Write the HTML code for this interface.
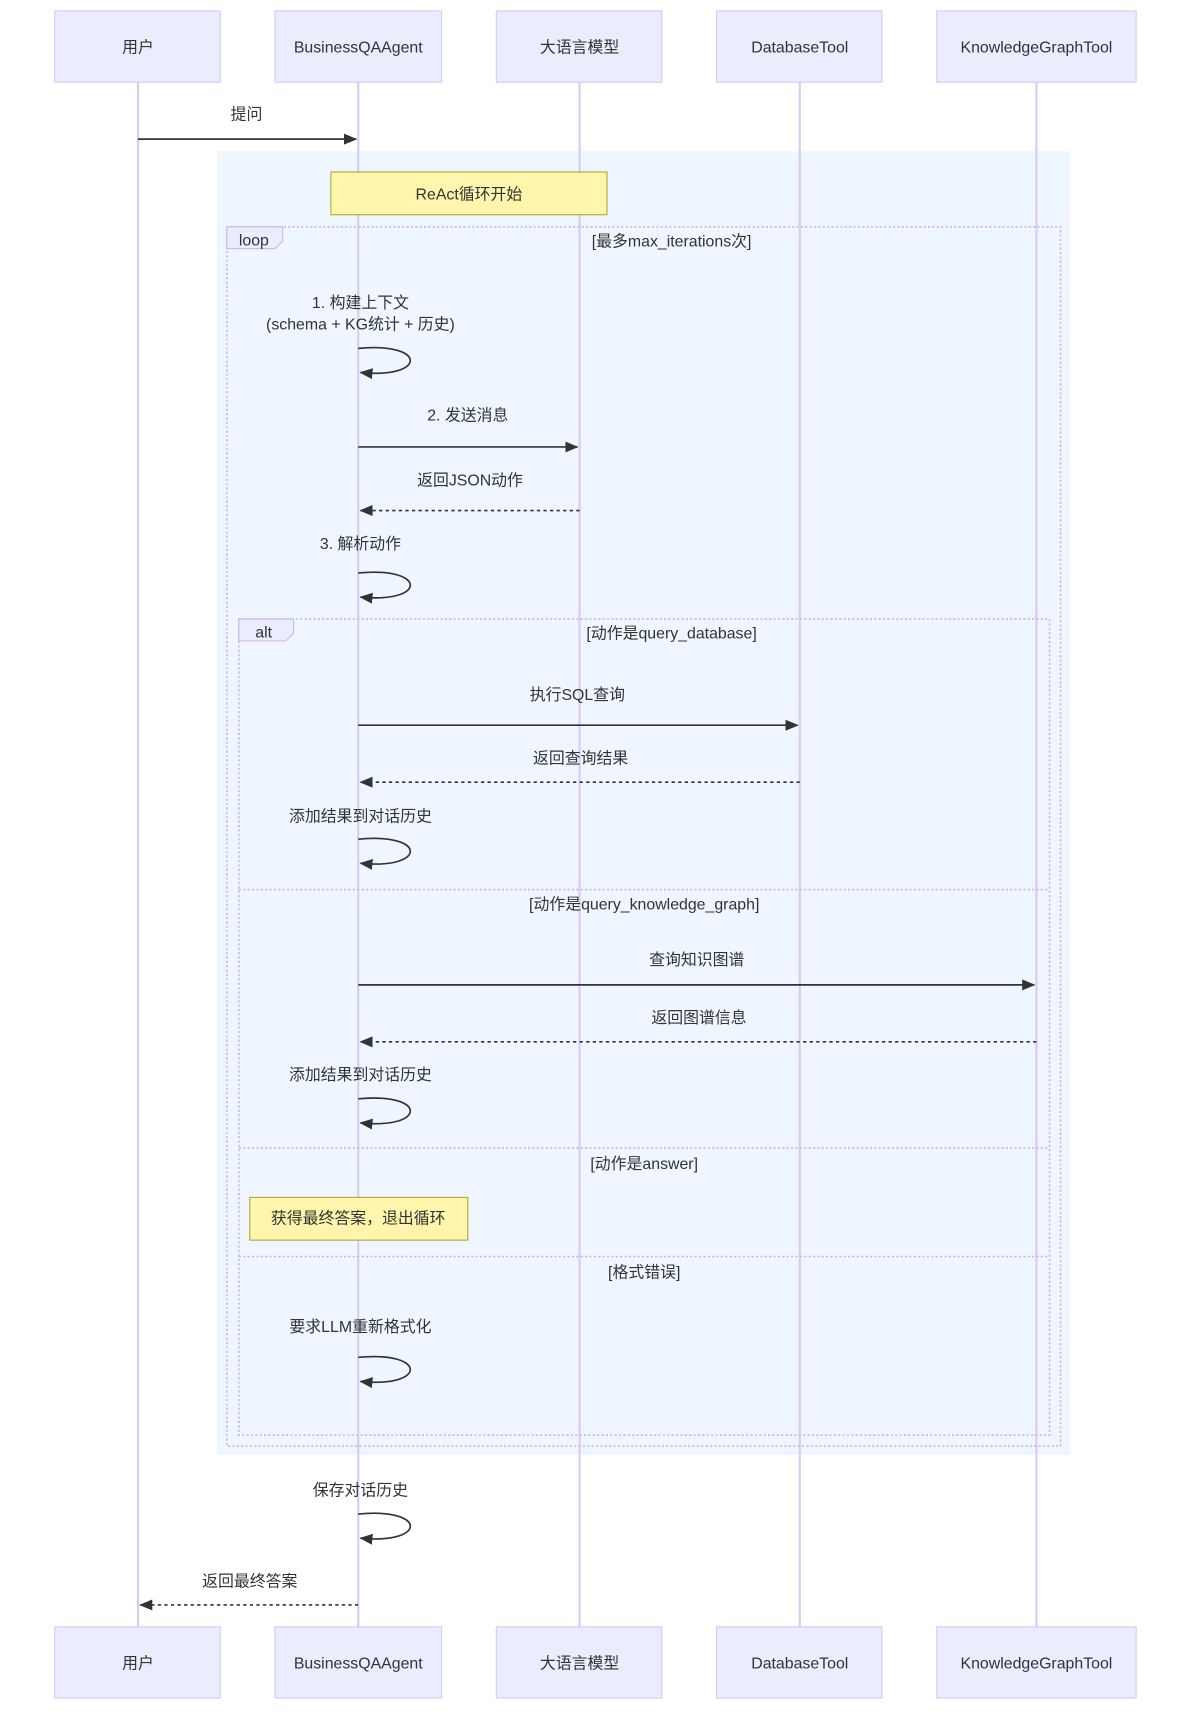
<!DOCTYPE html>
<html><head><meta charset="utf-8"><style>
html,body{margin:0;padding:0;background:#fff;}
svg{display:block;}
text{font-family:"Liberation Sans","Noto Sans CJK SC",sans-serif;font-size:14.5px;fill:#333;}
.actor{fill:#ececff;stroke:#ccccff;stroke-width:1;}
.life{stroke:#d6cdf5;stroke-width:2;}
.msg{stroke:#333;stroke-width:1.5;fill:none;}
.dash{stroke:#333;stroke-width:1.5;fill:none;stroke-dasharray:3,3;}
.frame{fill:none;stroke:#c9b8e8;stroke-width:1.5;stroke-dasharray:2,2;}
.note{fill:#fff5ad;stroke:#aaaa33;stroke-width:1;}
</style></head><body>
<svg width="1192" height="1718" viewBox="0 0 1088 1568.2" preserveAspectRatio="none" xmlns="http://www.w3.org/2000/svg">
<defs>
<marker id="ah" markerWidth="12" markerHeight="10" refX="11" refY="5" orient="auto" markerUnits="userSpaceOnUse">
<path d="M0,0 L12,5 L0,10 z" fill="#333"/></marker>
</defs>
<rect x="198" y="138" width="779" height="1190" fill="#eff6ff"/>
<line class="life" x1="126" y1="75" x2="126" y2="1485"/>
<line class="life" x1="327" y1="75" x2="327" y2="1485"/>
<line class="life" x1="529" y1="75" x2="529" y2="1485"/>
<line class="life" x1="730" y1="75" x2="730" y2="1485"/>
<line class="life" x1="946" y1="75" x2="946" y2="1485"/>
<g text-anchor="middle">
<rect class="actor" x="50" y="10" width="151" height="65"/><text x="126" y="48">用户</text>
<rect class="actor" x="251" y="10" width="152" height="65"/><text x="327" y="48">BusinessQAAgent</text>
<rect class="actor" x="453" y="10" width="151" height="65"/><text x="529" y="48">大语言模型</text>
<rect class="actor" x="654" y="10" width="151" height="65"/><text x="730" y="48">DatabaseTool</text>
<rect class="actor" x="855" y="10" width="182" height="65"/><text x="946" y="48">KnowledgeGraphTool</text>
<rect class="actor" x="50" y="1485" width="151" height="65"/><text x="126" y="1523">用户</text>
<rect class="actor" x="251" y="1485" width="152" height="65"/><text x="327" y="1523">BusinessQAAgent</text>
<rect class="actor" x="453" y="1485" width="151" height="65"/><text x="529" y="1523">大语言模型</text>
<rect class="actor" x="654" y="1485" width="151" height="65"/><text x="730" y="1523">DatabaseTool</text>
<rect class="actor" x="855" y="1485" width="182" height="65"/><text x="946" y="1523">KnowledgeGraphTool</text>
</g>
<text x="225" y="109" text-anchor="middle">提问</text>
<line class="msg" x1="126" y1="127" x2="325" y2="127" marker-end="url(#ah)"/>
<rect class="note" x="302" y="157" width="252" height="39"/>
<text x="428" y="182" text-anchor="middle">ReAct循环开始</text>
<rect class="frame" x="207" y="207" width="761" height="1113"/>
<path d="M207,207 H258 V220 L251,227 H207 z" fill="#ececff" stroke="#c9b8e8"/>
<text x="218" y="224">loop</text>
<text x="613" y="225" text-anchor="middle">[最多max_iterations次]</text>
<text x="329" y="281" text-anchor="middle">1. 构建上下文</text>
<text x="329" y="301" text-anchor="middle">(schema + KG统计 + 历史)</text>
<path class="msg" d="M327,318 C390,312 390,346 329,340" marker-end="url(#ah)"/>
<text x="427" y="384" text-anchor="middle">2. 发送消息</text>
<line class="msg" x1="327" y1="408" x2="527" y2="408" marker-end="url(#ah)"/>
<text x="429" y="443" text-anchor="middle">返回JSON动作</text>
<line class="dash" x1="529" y1="466" x2="329" y2="466" marker-end="url(#ah)"/>
<text x="329" y="501" text-anchor="middle">3. 解析动作</text>
<path class="msg" d="M327,523 C390,517 390,551 329,545" marker-end="url(#ah)"/>
<rect class="frame" x="218" y="565" width="740" height="745"/>
<path d="M218,565 H268 V578 L261,585 H218 z" fill="#ececff" stroke="#c9b8e8"/>
<text x="233" y="582">alt</text>
<text x="613" y="583" text-anchor="middle">[动作是query_database]</text>
<text x="527" y="639" text-anchor="middle">执行SQL查询</text>
<line class="msg" x1="327" y1="662" x2="728" y2="662" marker-end="url(#ah)"/>
<text x="530" y="697" text-anchor="middle">返回查询结果</text>
<line class="dash" x1="730" y1="714" x2="329" y2="714" marker-end="url(#ah)"/>
<text x="329" y="750" text-anchor="middle">添加结果到对话历史</text>
<path class="msg" d="M327,766 C390,760 390,794 329,788" marker-end="url(#ah)"/>
<line class="frame" x1="218" y1="812" x2="958" y2="812"/>
<text x="588" y="830" text-anchor="middle">[动作是query_knowledge_graph]</text>
<text x="636" y="881" text-anchor="middle">查询知识图谱</text>
<line class="msg" x1="327" y1="899" x2="944" y2="899" marker-end="url(#ah)"/>
<text x="638" y="934" text-anchor="middle">返回图谱信息</text>
<line class="dash" x1="946" y1="951" x2="329" y2="951" marker-end="url(#ah)"/>
<text x="329" y="986" text-anchor="middle">添加结果到对话历史</text>
<path class="msg" d="M327,1003 C390,997 390,1031 329,1025" marker-end="url(#ah)"/>
<line class="frame" x1="218" y1="1048" x2="958" y2="1048"/>
<text x="588" y="1067" text-anchor="middle">[动作是answer]</text>
<rect class="note" x="228" y="1093" width="199" height="39"/>
<text x="327" y="1117" text-anchor="middle">获得最终答案，退出循环</text>
<line class="frame" x1="218" y1="1147" x2="958" y2="1147"/>
<text x="588" y="1166" text-anchor="middle">[格式错误]</text>
<text x="329" y="1216" text-anchor="middle">要求LLM重新格式化</text>
<path class="msg" d="M327,1239 C390,1233 390,1267 329,1261" marker-end="url(#ah)"/>
<text x="329" y="1365" text-anchor="middle">保存对话历史</text>
<path class="msg" d="M327,1382 C390,1376 390,1410 329,1404" marker-end="url(#ah)"/>
<text x="228" y="1448" text-anchor="middle">返回最终答案</text>
<line class="dash" x1="327" y1="1465" x2="128" y2="1465" marker-end="url(#ah)"/>
</svg>
</body></html>
